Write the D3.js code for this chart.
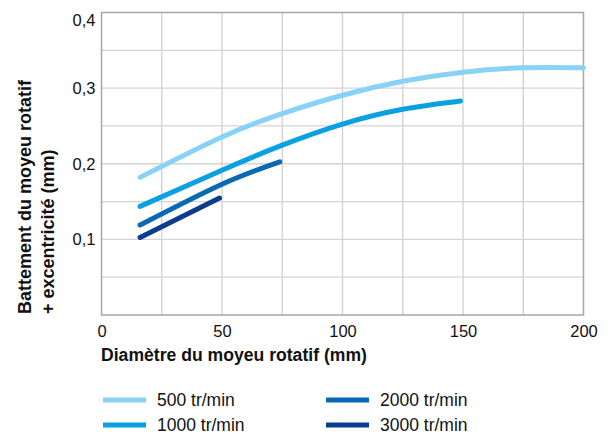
<!DOCTYPE html>
<html>
<head>
<meta charset="utf-8">
<script src="https://cdn.jsdelivr.net/npm/d3@7"></script>
<style>
body { margin: 0; background: #fff; }
text { font-family: "Liberation Sans", Arial, sans-serif; fill: #111; }
</style>
</head>
<body>
<svg id="chart" width="611" height="434"></svg>
<script>
// Values
var xTicks = [0, 50, 100, 150, 200];
var yTicks = [0.1, 0.2, 0.3, 0.4];

var x500 = [16, 50, 75, 100, 125, 150, 175, 200];
var y500 = [0.182, 0.2355, 0.2664, 0.2906, 0.309, 0.321, 0.327, 0.327];
var x1000 = [16, 50, 75, 100, 125, 149];
var y1000 = [0.1436, 0.1915, 0.2246, 0.2525, 0.272, 0.283];
var x2000 = [16, 50, 74];
var y2000 = [0.119, 0.173, 0.2025];
var x3000 = [16, 49];
var y3000 = [0.1026, 0.1546];

var seriesNames = ["500 tr/min", "1000 tr/min", "2000 tr/min", "3000 tr/min"];
var seriesColors = ["#88d2f7", "#0aa0e2", "#0a69b4", "#0b3c8e"];

var series = [
    {name: seriesNames[0], color: seriesColors[0], xs: x500, ys: y500},
    {name: seriesNames[1], color: seriesColors[1], xs: x1000, ys: y1000},
    {name: seriesNames[2], color: seriesColors[2], xs: x2000, ys: y2000},
    {name: seriesNames[3], color: seriesColors[3], xs: x3000, ys: y3000}
];

var svg = d3.select("#chart");
var pLeft = 101.5, pRight = 583.5, pTop = 12.5, pBottom = 315;

var x = d3.scaleLinear().domain([0, 200]).range([pLeft, pRight]);
var y = d3.scaleLinear().domain([0, 0.4]).range([pBottom, pTop]);

// grid
var grid = svg.append("g");
grid.selectAll(".vg")
    .data(d3.range(25, 200, 25))
    .enter().append("line")
    .attr("x1", function (d) { return x(d); })
    .attr("x2", function (d) { return x(d); })
    .attr("y1", pTop).attr("y2", pBottom)
    .style("stroke", "#cfcfcf").style("stroke-width", 1.3);
grid.selectAll(".hg")
    .data(d3.range(0.05, 0.4, 0.05))
    .enter().append("line")
    .attr("y1", function (d) { return y(d); })
    .attr("y2", function (d) { return y(d); })
    .attr("x1", pLeft).attr("x2", pRight)
    .style("stroke", "#d4d4d4").style("stroke-width", 1.3);

svg.append("rect")
    .attr("x", pLeft).attr("y", pTop)
    .attr("width", pRight - pLeft).attr("height", pBottom - pTop)
    .style("fill", "none").style("stroke", "#a6a6a6").style("stroke-width", 1.5);

// axes labels
var xAxis = svg.append("g").attr("transform", "translate(0," + pBottom + ")")
    .call(d3.axisBottom(x).tickValues(xTicks).tickSize(0).tickPadding(10));
var yAxis = svg.append("g").attr("transform", "translate(" + pLeft + ",0)")
    .call(d3.axisLeft(y).tickValues(yTicks).tickSize(0).tickPadding(6)
        .tickFormat(function (d) { return d3.format(".1f")(d).replace(".", ","); }));
svg.selectAll(".domain").remove();
svg.selectAll(".tick text")
    .style("font-size", "16.5px")
    .style("font-family", "'Liberation Sans', Arial, sans-serif")
    .style("fill", "#111");
yAxis.selectAll(".tick text").filter(function (d) { return d == 0.4; })
    .attr("dy", "0.8em");

// lines
var line = d3.line()
    .x(function (d) { return x(d[0]); })
    .y(function (d) { return y(d[1]); })
    .curve(d3.curveNatural);

svg.append("g").selectAll("path")
    .data(series)
    .enter().append("path")
    .attr("d", function (d) { return line(d3.zip(d.xs, d.ys)); })
    .style("fill", "none")
    .style("stroke", function (d) { return d.color; })
    .style("stroke-width", 5)
    .style("stroke-linecap", "round");

// axis titles
svg.append("text")
    .attr("x", 101).attr("y", 361)
    .style("font-size", "17.6px").style("font-weight", "bold")
    .text("Diamètre du moyeu rotatif (mm)");

var yt = svg.append("text")
    .attr("transform", "translate(0,314) rotate(-90)")
    .style("font-size", "18px").style("font-weight", "bold");
yt.append("tspan").attr("x", 0).attr("y", 31).text("Battement du moyeu rotatif");
yt.append("tspan").attr("x", 0).attr("y", 54).text("+ excentricité (mm)");

// legend
var legend = svg.append("g").selectAll("g")
    .data(series)
    .enter().append("g")
    .attr("transform", function (d, i) {
        return "translate(" + (i < 2 ? 103 : 326) + "," + (i % 2 == 0 ? 400 : 425) + ")";
    });
legend.append("line")
    .attr("x1", 0).attr("x2", 43).attr("y1", 0).attr("y2", 0)
    .style("stroke", function (d) { return d.color; })
    .style("stroke-width", 5);
legend.append("text")
    .attr("x", 54).attr("y", 6)
    .style("font-size", "17.5px")
    .text(function (d) { return d.name; });
</script>
</body>
</html>
